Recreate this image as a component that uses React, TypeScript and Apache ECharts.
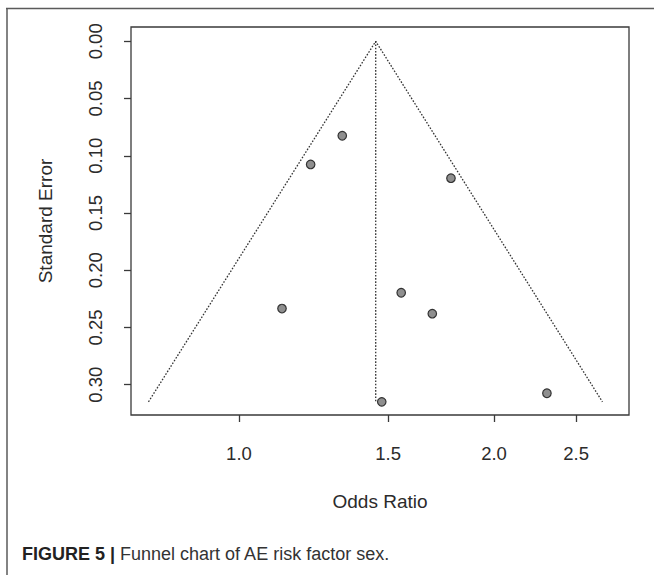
import React, { useEffect, useRef } from "react";
import * as echarts from "echarts";

// ---- data ----
const oddsRatios = [1.324, 1.215, 1.779, 1.124, 1.554, 1.691, 2.309, 1.474];
const standardErrors = [0.0825, 0.1076, 0.1196, 0.2335, 0.2197, 0.238, 0.3075, 0.315];
const pooledOR = 1.45;
const funnelLowerOR = 0.782;
const funnelUpperOR = 2.685;
const funnelSE = 0.315;
const xTickValues = [1.0, 1.5, 2.0, 2.5];
const xTickLabels = ["1.0", "1.5", "2.0", "2.5"];
const yTickValues = [0, 0.05, 0.1, 0.15, 0.2, 0.25, 0.3];
const yTickLabels = ["0.00", "0.05", "0.10", "0.15", "0.20", "0.25", "0.30"];
const xLimitsOR = [0.7457, 2.886];
const yLimits = [-0.0125, 0.3265];
const xTitle = "Odds Ratio";
const yTitle = "Standard Error";
const captionBold = "FIGURE 5 |";
const captionText = " Funnel chart of AE risk factor sex.";

const FONT = "'Liberation Sans', Arial, Helvetica, sans-serif";
const TXT = "#2b2b2b";
const AX = "#3a3a3a";

export default function App() {
  const ref = useRef<HTMLDivElement>(null);
  useEffect(() => {
    if (!ref.current) return;
    const chart = echarts.init(ref.current, undefined, { renderer: "svg" });
    const ln = Math.log;
    const points = oddsRatios.map((o, i) => [ln(o), standardErrors[i]]);
    const funnel = [
      [ln(funnelLowerOR), funnelSE],
      [ln(pooledOR), 0],
      [ln(funnelUpperOR), funnelSE],
    ];
    const center = [
      [ln(pooledOR), 0],
      [ln(pooledOR), funnelSE],
    ];
    const xCustom = xTickValues.map((v) => ln(v));
    const dotted = { color: "#333", width: 1.3, type: [1.6, 1.6] as any };
    chart.setOption({
      animation: false,
      backgroundColor: "#ffffff",
      textStyle: { fontFamily: FONT },
      grid: {
        left: 131,
        right: 25,
        top: 27,
        bottom: 160,
        show: true,
        borderColor: AX,
        borderWidth: 1.3,
        containLabel: false,
        outerBoundsMode: "none",
      },
      xAxis: {
        type: "value",
        min: ln(xLimitsOR[0]),
        max: ln(xLimitsOR[1]),
        splitLine: { show: false },
        axisLine: { show: false, onZero: false },
        axisTick: { show: true, length: 7, lineStyle: { color: AX, width: 1.3 }, customValues: xCustom },
        axisLabel: {
          customValues: xCustom,
          margin: 29,
          color: TXT,
          fontSize: 18.5,
          lineHeight: 19,
          fontFamily: FONT,
          formatter: (v: number) => {
            const i = xCustom.findIndex((c) => Math.abs(c - v) < 1e-6);
            return i >= 0 ? xTickLabels[i] : "";
          },
        },
        name: xTitle,
        nameLocation: "middle",
        nameGap: 77,
        nameTextStyle: { color: TXT, fontSize: 19, fontFamily: FONT, lineHeight: 19 },
      },
      yAxis: {
        type: "value",
        inverse: true,
        min: yLimits[0],
        max: yLimits[1],
        splitLine: { show: false },
        axisLine: { show: false, onZero: false },
        axisTick: { show: true, length: 7, lineStyle: { color: AX, width: 1.3 }, customValues: yTickValues },
        axisLabel: {
          customValues: yTickValues,
          rotate: 90,
          margin: 26,
          color: TXT,
          fontSize: 18.5,
          lineHeight: 19,
          fontFamily: FONT,
          formatter: (v: number) => {
            const i = yTickValues.findIndex((c) => Math.abs(c - v) < 1e-9);
            return i >= 0 ? yTickLabels[i] : "";
          },
        },
        name: yTitle,
        nameLocation: "middle",
        nameGap: 76,
        nameTextStyle: { color: TXT, fontSize: 19, fontFamily: FONT, lineHeight: 19 },
      },
      series: [
        {
          type: "line",
          data: funnel,
          symbol: "none",
          lineStyle: dotted,
          z: 2,
          silent: true,
        },
        {
          type: "line",
          data: center,
          symbol: "none",
          lineStyle: dotted,
          z: 2,
          silent: true,
        },
        {
          type: "scatter",
          data: points,
          symbol: "circle",
          symbolSize: 8.5,
          itemStyle: { color: "#8f8f8f", borderColor: "#333", borderWidth: 1.2, opacity: 1 },
          z: 5,
        },
      ],
      graphic: [
        {
          type: "line",
          shape: { x1: 6, y1: 8.5, x2: 654, y2: 8.5 },
          style: { stroke: "#5a5a5a", lineWidth: 1.5 },
        },
        {
          type: "line",
          shape: { x1: 7, y1: 8, x2: 7, y2: 575 },
          style: { stroke: "#5a5a5a", lineWidth: 1.5 },
        },
        {
          type: "text",
          x: 22,
          y: 553.5,
          style: {
            text: "{b|" + captionBold + "}{r|" + captionText + "}",
            verticalAlign: "middle",
            rich: {
              b: { fontSize: 18, fontWeight: "bold", fill: "#222", fontFamily: FONT },
              r: { fontSize: 18, fill: "#333", fontFamily: FONT },
            },
          },
        },
      ],
    });
    return () => chart.dispose();
  }, []);
  return (
    <div
      ref={ref}
      style={{ position: "absolute", left: 0, top: 0, width: 654, height: 575, background: "#fff" }}
    />
  );
}
